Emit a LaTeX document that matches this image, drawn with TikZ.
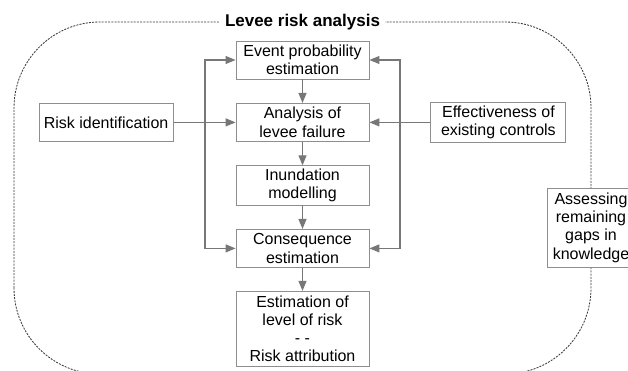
\documentclass[tikz,border=0pt]{standalone}
\usepackage{fontspec}
\setmainfont{Liberation Sans}
\usepackage{tikz}
\usetikzlibrary{positioning}
\usetikzlibrary{arrows.meta}
\usetikzlibrary{calc}
\definecolor{arrowgray}{HTML}{777777}
\definecolor{boxgray}{HTML}{8E8E8E}
\definecolor{framegray}{HTML}{383838}
\tikzstyle{line} = [draw, color=arrowgray, line width=1.1pt, -{Triangle[length=10pt,width=8pt]}]
\tikzstyle{biline} = [line, {Triangle[length=10pt,width=8pt]}-{Triangle[length=10pt,width=8pt]}]

\begin{document}
\begin{tikzpicture}[x=1pt, y=1pt,
				internal/.style={draw=boxgray, line width=0.9pt, rectangle, fill=white, inner xsep=4pt, inner ysep=3pt, minimum height=38pt, font=\fontsize{16}{18.3}\selectfont},
				stage/.style={internal, minimum width=133pt},
				every text node part/.style={align=center}]
				\useasboundingbox (0,0) rectangle (628,371);
				% dashed frame with title
				\draw[color=framegray, line width=0.85pt, dash pattern=on 2pt off 1.2pt, rounded corners=86pt] (14,-3) rectangle (591,349);
				\node[fill=white, inner xsep=5pt, font=\bfseries\fontsize{17}{20}\selectfont](title) at (302.5,349) {Levee risk analysis};
				
				% central chain
				\node[stage](event) at (302.5,311) {Event probability\\estimation};
				\node[stage, below=23.5pt of event](failure) {Analysis of\\levee failure};
				\node[stage, below=23.5pt of failure](inundation) {Inundation\\modelling};
				\node[stage, below=23.5pt of inundation](consequence) {Consequence\\estimation};
				\node[stage, minimum height=75pt, below=23pt of consequence](level) {Estimation of\\level of risk\\- -\\Risk attribution};
				
				\node[internal, minimum width=134pt, left=62pt of failure](riskid) {Risk identification};
				\node[internal, minimum width=135pt, right=61pt of failure](controls) {Effectiveness of\\existing controls};
				\node[internal, minimum width=88pt, minimum height=79pt](gaps) at (591,143.5) {Assessing\\remaining\\gaps in\\knowledge};
				
				\coordinate (lbus) at (205,0);
				\coordinate (rbus) at (400,0);
				
				\draw [line] (event) -- (failure);
				\draw [line] (failure) -- (inundation);
				\draw [line] (inundation) -- (consequence);
				\draw [line] (consequence) -- (level);
				\draw [line] (riskid) -- (failure);
				\draw [line] (controls) -- (failure);
				\draw [biline] (event.west) -- (event.west -| lbus) -- (consequence.west -| lbus) -- (consequence.west);
				\draw [biline] (event.east) -- (event.east -| rbus) -- (consequence.east -| rbus) -- (consequence.east);
			\end{tikzpicture}
\end{document}
